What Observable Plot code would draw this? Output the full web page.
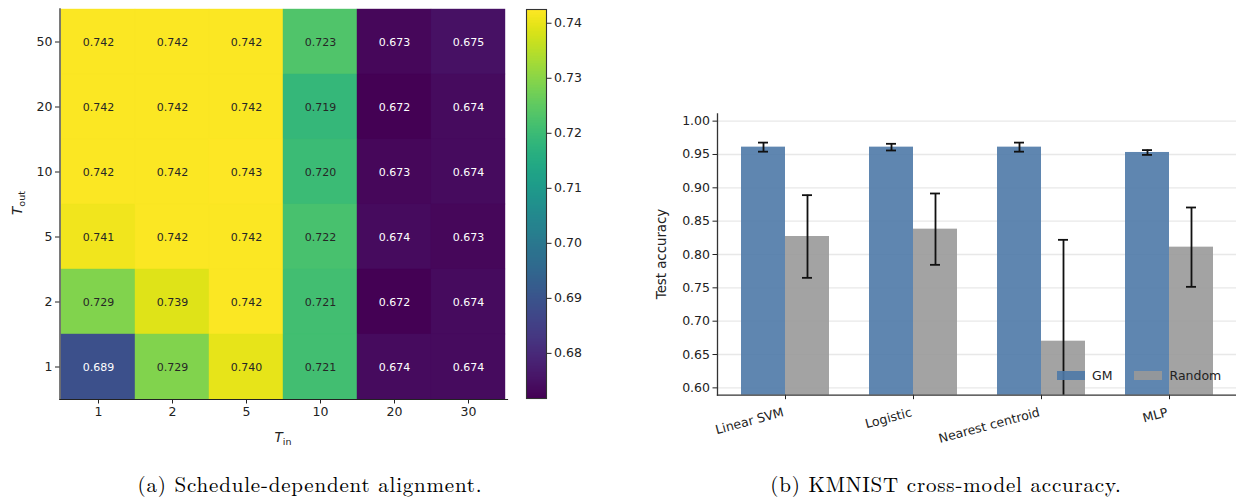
<!DOCTYPE html>
<html><head><meta charset="utf-8">
<script src="https://cdn.jsdelivr.net/npm/d3@7"></script>
<script src="https://cdn.jsdelivr.net/npm/@observablehq/plot@0.6"></script>
<style>
body{margin:0;background:#fff;}
#fig{position:relative;width:1236px;height:498px;overflow:hidden;font-family:"DejaVu Sans",sans-serif;background:#fff;}
.panel{position:absolute;top:0;}
.cap{position:absolute;top:472px;height:23px;line-height:23px;font-family:"Latin Modern Roman","Liberation Serif",serif;font-size:21px;letter-spacing:0.8px;color:#000;transform:translateX(-50%);white-space:nowrap;}
#legend{position:absolute;left:1057px;top:368px;font-family:"DejaVu Sans",sans-serif;font-size:12.5px;color:#222;display:flex;align-items:center;}
#legend .sw{display:inline-block;width:28px;height:9px;opacity:0.9;margin-right:7px;}
#legend .it{display:flex;align-items:center;margin-right:22px;}
</style></head><body>
<div id="fig">
  <div id="heat" class="panel" style="left:0"></div>
  <div id="cbar" class="panel" style="left:526px"></div>
  <div id="bars" class="panel" style="left:640px"></div>
  <div id="legend"></div>
  <div class="cap" style="left:310px">(a) Schedule-dependent alignment.</div>
  <div class="cap" style="left:946px">(b) KMNIST cross-model accuracy.</div>
</div>
<script>
// ---------- data: heatmap ----------
const tIn = ["1", "2", "5", "10", "20", "30"];
const tOut = ["50", "20", "10", "5", "2", "1"];
const alignOut50 = [0.742, 0.742, 0.742, 0.723, 0.673, 0.675];
const alignOut20 = [0.742, 0.742, 0.742, 0.719, 0.672, 0.674];
const alignOut10 = [0.742, 0.742, 0.743, 0.720, 0.673, 0.674];
const alignOut5  = [0.741, 0.742, 0.742, 0.722, 0.674, 0.673];
const alignOut2  = [0.729, 0.739, 0.742, 0.721, 0.672, 0.674];
const alignOut1  = [0.689, 0.729, 0.740, 0.721, 0.674, 0.674];
const colorTicks = [0.68, 0.69, 0.70, 0.71, 0.72, 0.73, 0.74];
const colorDomain = [0.6718, 0.7425];

// ---------- data: bars ----------
const models = ["Linear SVM", "Logistic", "Nearest centroid", "MLP"];
const series = ["GM", "Random"];
const gmAcc = [0.961, 0.961, 0.961, 0.953];
const gmErr = [0.0068, 0.005, 0.0068, 0.0036];
const randomAcc = [0.827, 0.838, 0.670, 0.811];
const randomErr = [0.062, 0.0535, 0.152, 0.0595];
const accTicks = [0.60, 0.65, 0.70, 0.75, 0.80, 0.85, 0.90, 0.95, 1.00];
const accDomain = [0.589, 1.011];
const seriesColors = ["#4e79a7", "#999999"];

// ---------- heatmap ----------
const alignRows = [alignOut50, alignOut20, alignOut10, alignOut5, alignOut2, alignOut1];
const cells = tOut.flatMap((o, i) => tIn.map((t, j) => ({tin: t, tout: o, v: alignRows[i][j]})));
const textColorSplit = (colorDomain[0] + colorDomain[1]) / 2;
const axisStyle = {fontFamily: "DejaVu Sans", fontSize: "12.5px", color: "#222", background: "transparent", overflow: "visible"};

const heat = Plot.plot({
  width: 520, height: 460,
  marginLeft: 59.5, marginRight: 13, marginTop: 8.3, marginBottom: 61,
  style: axisStyle,
  x: {type: "band", domain: tIn, padding: 0, label: null},
  y: {type: "band", domain: tOut, padding: 0, label: null},
  color: {type: "linear", scheme: "viridis", domain: colorDomain, clamp: true},
  marks: [
    Plot.cell(cells, {x: "tin", y: "tout", fill: "v", stroke: "v", strokeWidth: 0.4, inset: 0}),
    Plot.text(cells, {filter: d => d.v < textColorSplit, x: "tin", y: "tout", text: d => d.v.toFixed(3), fill: "white", fontSize: 11}),
    Plot.text(cells, {filter: d => d.v >= textColorSplit, x: "tin", y: "tout", text: d => d.v.toFixed(3), fill: "#262626", fontSize: 11}),
    Plot.axisX({tickSize: 4.5, tickPadding: 3, label: null, stroke: "#222"}),
    Plot.axisY({tickSize: 4.5, tickPadding: 3, label: null, stroke: "#222"}),
    Plot.frame({anchor: "left", stroke: "#222", strokeWidth: 1.2}),
    Plot.frame({anchor: "bottom", stroke: "#222", strokeWidth: 1.2})
  ]
});
document.getElementById("heat").appendChild(heat);
{
  const s = d3.select(heat);
  const tx = s.append("text").attr("x", 283).attr("y", 442).attr("text-anchor", "middle")
    .attr("font-family", "DejaVu Sans").attr("font-size", 13.5).attr("fill", "#222");
  tx.append("tspan").attr("font-style", "italic").text("T");
  tx.append("tspan").attr("font-size", 9.5).attr("dy", 3).text("in");
  const ty = s.append("text").attr("transform", "translate(22,203) rotate(-90)").attr("text-anchor", "middle")
    .attr("font-family", "DejaVu Sans").attr("font-size", 13.5).attr("fill", "#222");
  ty.append("tspan").attr("font-style", "italic").text("T");
  ty.append("tspan").attr("font-size", 9.5).attr("dy", 3).text("out");
}

// ---------- colorbar ----------
const cbar = Plot.plot({
  width: 74, height: 460,
  marginLeft: 0, marginRight: 54, marginTop: 9, marginBottom: 62,
  style: axisStyle,
  x: {domain: [0, 1], axis: null},
  y: {domain: colorDomain, axis: null},
  color: {type: "linear", scheme: "viridis", domain: colorDomain},
  marks: [
    Plot.raster({fill: (x, y) => y, x1: 0, x2: 1, y1: colorDomain[0], y2: colorDomain[1], width: 1, height: 400, imageRendering: "auto"}),
    Plot.frame({stroke: "#333", strokeWidth: 1.1}),
    Plot.axisY(colorTicks, {anchor: "right", tickSize: 4.5, tickPadding: 3, tickFormat: d => d.toFixed(2), label: null, stroke: "#222"})
  ]
});
document.getElementById("cbar").appendChild(cbar);

// ---------- bars ----------
const gmRows = models.map((m, i) => ({model: m, v: gmAcc[i], e: gmErr[i]}));
const rdRows = models.map((m, i) => ({model: m, v: randomAcc[i], e: randomErr[i]}));
const halfBand = 44, capHalf = 5;
const bars = Plot.plot({
  width: 596, height: 460,
  marginLeft: 77, marginRight: 0, marginTop: 113.3, marginBottom: 65.3,
  style: axisStyle,
  x: {type: "band", domain: models, paddingInner: 0.3125, paddingOuter: 0.18, label: null},
  y: {domain: accDomain, label: null},
  marks: [
    Plot.gridY(accTicks, {stroke: "#e8e8e8", strokeOpacity: 1, strokeWidth: 1.3}),
    Plot.barY(gmRows, {x: "model", y1: accDomain[0], y2: "v", fill: seriesColors[0], fillOpacity: 0.9, insetRight: halfBand, insetLeft: 0}),
    Plot.barY(rdRows, {x: "model", y1: accDomain[0], y2: "v", fill: seriesColors[1], fillOpacity: 0.9, insetLeft: halfBand, insetRight: 0}),
    Plot.ruleX(gmRows, {x: "model", y1: d => d.v - d.e, y2: d => d.v + d.e, dx: -halfBand / 2, stroke: "#111", strokeWidth: 1.8, clip: true}),
    Plot.ruleX(rdRows, {x: "model", y1: d => d.v - d.e, y2: d => d.v + d.e, dx: halfBand / 2, stroke: "#111", strokeWidth: 1.8, clip: true}),
    Plot.tickY(gmRows, {x: "model", y: d => d.v + d.e, insetLeft: halfBand / 2 - capHalf, insetRight: halfBand * 1.5 - capHalf, stroke: "#111", strokeWidth: 1.8}),
    Plot.tickY(gmRows, {x: "model", y: d => d.v - d.e, insetLeft: halfBand / 2 - capHalf, insetRight: halfBand * 1.5 - capHalf, stroke: "#111", strokeWidth: 1.8}),
    Plot.tickY(rdRows, {x: "model", y: d => d.v + d.e, insetLeft: halfBand * 1.5 - capHalf, insetRight: halfBand / 2 - capHalf, stroke: "#111", strokeWidth: 1.8}),
    Plot.tickY(rdRows.filter(d => d.v - d.e > accDomain[0]), {x: "model", y: d => d.v - d.e, insetLeft: halfBand * 1.5 - capHalf, insetRight: halfBand / 2 - capHalf, stroke: "#111", strokeWidth: 1.8}),
    Plot.axisY(accTicks, {tickSize: 4.5, tickPadding: 3, tickFormat: d => d.toFixed(2), label: null, stroke: "#222"}),
    Plot.axisX({tickSize: 4.5, tickFormat: () => "", label: null, stroke: "#222"}),
    Plot.axisX({tickSize: 0, tickPadding: 3, tickRotate: -15, dy: 14, dx: -2, label: null}),
    Plot.frame({anchor: "left", stroke: "#333", strokeWidth: 1.3}),
    Plot.frame({anchor: "bottom", stroke: "#333", strokeWidth: 1.3})
  ]
});
document.getElementById("bars").appendChild(bars);
d3.select(bars).append("text").attr("transform", "translate(22,254) rotate(-90)").attr("text-anchor", "middle")
  .attr("dominant-baseline", "middle").attr("font-family", "DejaVu Sans").attr("font-size", 13.3).attr("fill", "#222").text("Test accuracy");

// ---------- legend ----------
const lg = d3.select("#legend");
series.forEach((s, i) => {
  const it = lg.append("span").attr("class", "it");
  it.append("span").attr("class", "sw").style("background", seriesColors[i]);
  it.append("span").text(s);
});
</script>
</body></html>
